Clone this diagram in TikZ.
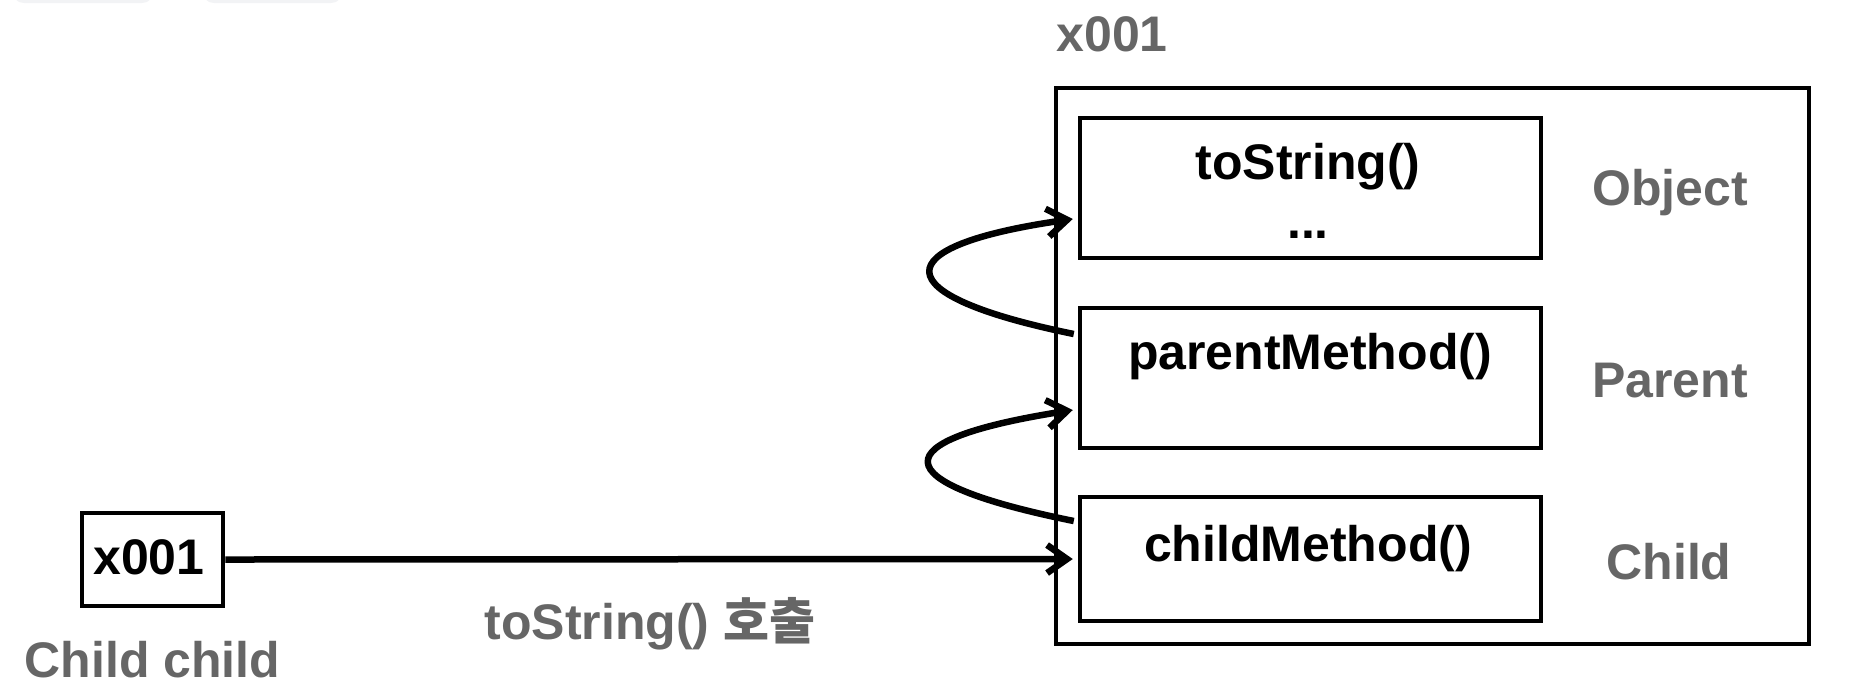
\documentclass[tikz,border=0pt]{standalone}
\usepackage{fontspec}
\setmainfont{Liberation Sans}
\newfontfamily\kr{Noto Sans CJK KR}
\usetikzlibrary{arrows.meta}
\definecolor{lblgray}{HTML}{666666}
\definecolor{tabgray}{HTML}{F2F3F5}
\tikzset{
  every node/.style={font=\fontsize{25}{30}\selectfont\bfseries, inner sep=0pt},
  box/.style={draw, line width=2.25pt, inner sep=0pt},
  lbl/.style={anchor=base, text=lblgray},
  txt/.style={anchor=base, text=black},
  conn/.style={draw=black, line width=3.25pt, -{Straight Barb[length=10pt,width=14pt]}},
}
\begin{document}
\begin{tikzpicture}[x=0.5pt, y=-0.5pt]
\useasboundingbox (0,0) rectangle (1872,698);
% faint tabs cut off at the top
\fill[tabgray, rounded corners=6pt] (12,-30) rectangle (154,3);
\fill[tabgray, rounded corners=6pt] (202,-30) rectangle (343,3);

% reference variable
\node[box, minimum width=70.5pt, minimum height=46.5pt] (sbox) at (152.5,559.5) {};
\node[txt] (sval) at (149,574) {x001};
\node[lbl] (svar) at (152.5,677) {Child child};

% instance
\node[lbl] (addr) at (1112,51) {x001};
\node[box, minimum width=376.5pt, minimum height=278pt] (outer) at (1432.5,366) {};
\node[box, minimum width=230.5pt, minimum height=70pt] (obox) at (1310.5,188) {};
\node[box, minimum width=230.5pt, minimum height=70pt] (pbox) at (1310.5,378) {};
\node[box, minimum width=230.5pt, minimum height=62pt] (cbox) at (1310.5,559) {};

\node[txt] (otxt) at (1308,179) {toString()};
\node[txt] (odots) at (1308,238) {...};
\node[txt] (ptxt) at (1310,369) {parentMethod()};
\node[txt] (ctxt) at (1308,561) {childMethod()};

\node[lbl] (olbl) at (1670,205) {Object};
\node[lbl] (plbl) at (1670,397) {Parent};
\node[lbl] (clbl) at (1669,579) {Child};

% call label
\node[lbl] (call) at (650,639) {toString() {\kr 호출}};

% connectors
\coordinate (p1) at ([xshift=-2pt,yshift=22pt]pbox.west);
\coordinate (o1) at ([xshift=-2.5pt,yshift=-15.5pt]obox.west);
\coordinate (c1) at ([xshift=-2pt,yshift=19pt]cbox.west);
\coordinate (p2) at ([xshift=-2.5pt,yshift=-16pt]pbox.west);
\draw[conn] (sbox.east) -- ([xshift=-2.5pt]cbox.west);
\draw[conn] (p1) .. controls +(-191,-39) and +(-190,27) .. (o1);
\draw[conn] (c1) .. controls +(-193,-39) and +(-192,30) .. (p2);
\end{tikzpicture}
\end{document}
